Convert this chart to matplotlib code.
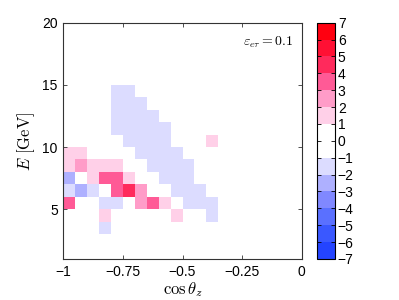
import numpy as np
import matplotlib
matplotlib.use('Agg')
import matplotlib.pyplot as plt
from matplotlib.colors import ListedColormap, BoundaryNorm

plt.rcParams['font.family'] = ['Liberation Sans', 'DejaVu Sans']
plt.rcParams['mathtext.fontset'] = 'cm'

# bins
cos_edges = [-1.0, -0.95, -0.9, -0.85, -0.8, -0.75, -0.7, -0.65, -0.6, -0.55, -0.5, -0.45, -0.4, -0.35]
E_edges = [3, 4, 5, 6, 7, 8, 9, 10, 11, 12, 13, 14, 15]

n = np.nan
# one row per energy bin, lowest first (E = 3-4 ... 14-15)
row_3 = [n, n, n, -1.5, n, n, n, n, n, n, n, n, n]
row_4 = [n, n, n, 1.5, n, n, n, n, n, 1.5, n, n, -1.5]
row_5 = [3.5, n, n, -1.5, -1.5, n, 2.5, 3.5, 1.5, n, -1.5, -1.5, -1.5]
row_6 = [-1.5, -2.5, -1.5, n, 3.5, 4.5, 2.5, n, n, -1.5, -1.5, -1.5, n]
row_7 = [-2.5, n, 1.5, 3.5, 3.5, 1.5, n, n, -1.5, -1.5, -1.5, n, n]
row_8 = [1.5, 2.5, 1.5, 1.5, 1.5, n, n, -1.5, -1.5, -1.5, -1.5, n, n]
row_9 = [1.5, 1.5, n, n, n, n, -1.5, -1.5, -1.5, -1.5, n, n, n]
row_10 = [n, n, n, n, n, -1.5, -1.5, -1.5, -1.5, n, n, n, 1.5]
row_11 = [n, n, n, n, -1.5, -1.5, -1.5, -1.5, -1.5, n, n, n, n]
row_12 = [n, n, n, n, -1.5, -1.5, -1.5, -1.5, n, n, n, n, n]
row_13 = [n, n, n, n, -1.5, -1.5, -1.5, n, n, n, n, n, n]
row_14 = [n, n, n, n, -1.5, -1.5, n, n, n, n, n, n, n]

grid = np.array([row_3, row_4, row_5, row_6, row_7, row_8, row_9,
                 row_10, row_11, row_12, row_13, row_14])

levels = [-7, -6, -5, -4, -3, -2, -1, 0, 1, 2, 3, 4, 5, 6, 7]
colors = ['#2444ff', '#3a58ff', '#5a70ff', '#8088ff', '#aeb0ff', '#dcdcff', '#ffffff',
          '#ffffff', '#ffd0e8', '#ff9cc8', '#ff5a96', '#ff2a5c', '#ff1034', '#ff0010']
cmap = ListedColormap(colors)
norm = BoundaryNorm(levels, cmap.N)

fig = plt.figure(figsize=(3.99, 3.0), dpi=100)
ax = fig.add_axes([0.1587, 0.1367, 0.5975, 0.7877])
cax = fig.add_axes([0.7937, 0.1367, 0.0459, 0.7877])

mesh = ax.pcolormesh(cos_edges, E_edges, np.ma.masked_invalid(grid), cmap=cmap, norm=norm)

ax.set_xlim(-1, 0)
ax.set_ylim(1, 20)
ax.set_xticks([-1, -0.75, -0.5, -0.25, 0])
ax.set_xticklabels(['\u22121', '\u22120.75', '\u22120.5', '\u22120.25', '0'])
ax.set_yticks([5, 10, 15, 20])
ax.tick_params(direction='in', length=3, width=0.6, top=True, right=True,
               labelsize=10, pad=4, color='#333333')
for s in ax.spines.values():
    s.set_linewidth(0.8)
    s.set_color('#333333')

ax.set_xlabel(r'$\cos\theta_z$', fontsize=12, labelpad=1)
ax.set_ylabel(r'$E\ \mathrm{[GeV]}$', fontsize=12, labelpad=4)
ax.text(0.965, 0.918, r'$\varepsilon_{e\tau} = 0.1$', transform=ax.transAxes,
        ha='right', va='center', fontsize=10)

cb = fig.colorbar(mesh, cax=cax, ticks=list(range(-7, 8)))
cb.ax.set_yticklabels(['\u2212%d' % abs(v) if v < 0 else '%d' % v for v in range(-7, 8)])
cb.ax.tick_params(direction='in', length=3, width=0.6, labelsize=10, pad=2, left=True)
cb.outline.set_linewidth(0.8)

fig.savefig('out.png', dpi=100)
